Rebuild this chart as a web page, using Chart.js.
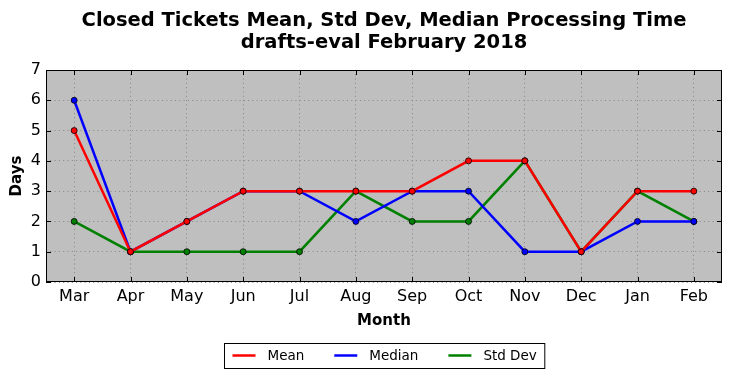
<!DOCTYPE html>
<html>
<head>
<meta charset="utf-8">
<script src="https://cdn.jsdelivr.net/npm/chart.js@4/dist/chart.umd.min.js"></script>
<style>
  html, body { margin: 0; padding: 0; background: #fff; }
  #wrap { width: 732px; height: 378px; }
</style>
</head>
<body>
<div id="wrap"><canvas id="myChart"></canvas></div>
<script>
const months = ['Mar', 'Apr', 'May', 'Jun', 'Jul', 'Aug', 'Sep', 'Oct', 'Nov', 'Dec', 'Jan', 'Feb'];
const meanDays = [5, 1, 2, 3, 3, 3, 3, 4, 4, 1, 3, 3];
const medianDays = [6, 1, 2, 3, 3, 2, 3, 3, 1, 1, 2, 2];
const stdDevDays = [2, 1, 1, 1, 1, 3, 2, 2, 4, 1, 3, 2];
const titleLines = ['Closed Tickets Mean, Std Dev, Median Processing Time', 'drafts-eval February 2018'];

const FONT = "'DejaVu Sans', sans-serif";

function line(label, color, values) {
  return {
    label: label,
    data: values,
    borderColor: color,
    backgroundColor: color,
    borderWidth: 2.5,
    pointRadius: 3,
    pointBorderColor: '#000',
    pointBorderWidth: 0.8,
    pointHoverRadius: 3,
    tension: 0,
  };
}

// фон, рамка и внутренние засечки как в matplotlib
const framePlugin = {
  id: 'frame',
  beforeDraw(chart) {
    const { ctx, chartArea: a } = chart;
    ctx.save();
    ctx.fillStyle = '#bfbfbf';
    ctx.fillRect(a.left, a.top, a.right - a.left, a.bottom - a.top);
    ctx.restore();
  },
  afterDatasetsDraw(chart) {
    const { ctx, chartArea: a, scales } = chart;
    ctx.save();
    ctx.strokeStyle = '#000';
    ctx.lineWidth = 1;
    ctx.beginPath();
    scales.x.ticks.forEach((t, i) => {
      const x = Math.round(scales.x.getPixelForTick(i)) + 0.5;
      ctx.moveTo(x, a.bottom); ctx.lineTo(x, a.bottom - 5);
      ctx.moveTo(x, a.top); ctx.lineTo(x, a.top + 5);
    });
    scales.y.ticks.forEach((t, i) => {
      const y = Math.round(scales.y.getPixelForTick(i)) + 0.5;
      ctx.moveTo(a.left, y); ctx.lineTo(a.left + 5, y);
      ctx.moveTo(a.right, y); ctx.lineTo(a.right - 5, y);
    });
    ctx.stroke();
    ctx.strokeRect(Math.round(a.left) + 0.5, Math.round(a.top) + 0.5,
      Math.round(a.right - a.left) - 1, Math.round(a.bottom - a.top) - 1);
    ctx.restore();
  },
  afterDraw(chart) {
    const { ctx, chartArea: a } = chart;
    const cx = (a.left + a.right) / 2;
    ctx.save();
    // заголовок
    ctx.fillStyle = '#000';
    ctx.textAlign = 'center';
    ctx.textBaseline = 'alphabetic';
    ctx.font = 'bold 19.5px ' + FONT;
    ctx.fillText(titleLines[0], cx, 26);
    ctx.fillText(titleLines[1], cx, 48);
    // легенда
    ctx.textBaseline = 'middle';
    ctx.font = '13.5px ' + FONT;
    const ds = chart.data.datasets;
    const widths = ds.map(d => 23 + 12 + ctx.measureText(d.label).width);
    const total = widths.reduce((s, w) => s + w, 0) + 30 * (ds.length - 1);
    const boxW = total + 16;
    const boxL = Math.round(cx - boxW / 2) + 0.5;
    ctx.fillStyle = '#fff';
    ctx.fillRect(boxL, 343.5, boxW, 25);
    ctx.strokeStyle = '#000';
    ctx.lineWidth = 1;
    ctx.strokeRect(boxL, 343.5, boxW, 25);
    let x = boxL + 8;
    ctx.textAlign = 'left';
    ds.forEach((d, i) => {
      ctx.strokeStyle = d.borderColor;
      ctx.lineWidth = 2.5;
      ctx.beginPath();
      ctx.moveTo(x, 355.5); ctx.lineTo(x + 23, 355.5);
      ctx.stroke();
      ctx.fillStyle = '#000';
      ctx.fillText(d.label, x + 35, 356);
      x += widths[i] + 30;
    });
    ctx.restore();
  },
};

const config = {
  type: 'line',
  data: {
    labels: months,
    datasets: [
      line('Mean', '#ff0000', meanDays),
      line('Median', '#0000ff', medianDays),
      line('Std Dev', '#008000', stdDevDays),
    ],
  },
  options: {
    responsive: true,
    maintainAspectRatio: false,
    animation: false,
    events: [],
    layout: { padding: { top: 70, right: 10, left: 0, bottom: 48 } },
    plugins: {
      legend: { display: false },
      title: { display: false },
      tooltip: { enabled: false },
    },
    scales: {
      x: {
        offset: true,
        grid: { color: '#858585', lineWidth: 1, drawTicks: false, offset: false },
        border: { display: false, dash: [1, 3.3] },
        ticks: { color: '#000', padding: 5, font: { size: 16, family: FONT } },
        title: { display: true, text: 'Month', color: '#000', padding: { top: 0, bottom: 0 }, font: { size: 15, weight: 'bold', family: FONT } },
        afterFit(scale) { scale.height = 48; },
      },
      y: {
        min: 0,
        max: 7,
        grid: { color: '#858585', lineWidth: 1, drawTicks: false },
        border: { display: false, dash: [1, 3.3] },
        ticks: { stepSize: 1, color: '#000', padding: 5, font: { size: 16, family: FONT } },
        title: { display: true, text: 'Days', color: '#000', padding: { top: 8, bottom: 0 }, font: { size: 15, weight: 'bold', family: FONT } },
        afterFit(scale) { scale.width = 46; },
      },
    },
  },
  plugins: [framePlugin],
};

var myChart = new Chart(document.getElementById('myChart'), config);
</script>
</body>
</html>
